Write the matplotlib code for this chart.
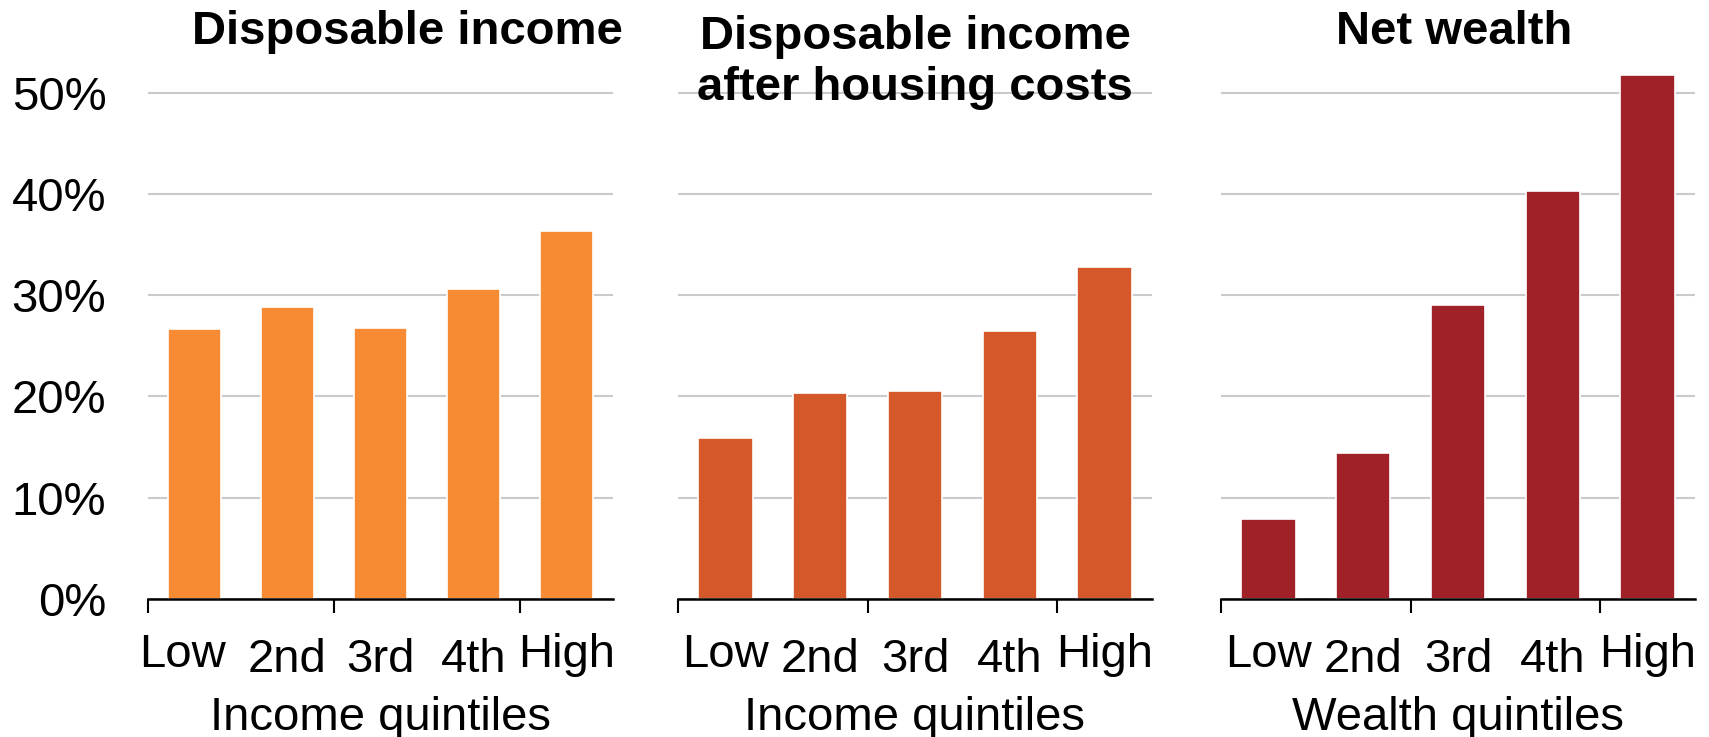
import matplotlib
matplotlib.use("Agg")
import matplotlib.pyplot as plt
import matplotlib.transforms as mtransforms

# quintile labels and values (% share)
quintiles = ["Low", "2nd", "3rd", "4th", "High"]
disp_income = [26.7, 28.8, 26.8, 30.6, 36.3]
disp_income_ahc = [15.9, 20.3, 20.5, 26.5, 32.8]
net_wealth = [7.9, 14.4, 29.0, 40.3, 51.7]

titles = ["Disposable income", "Disposable income\nafter housing costs", "Net wealth"]
xlabels = ["Income quintiles", "Income quintiles", "Wealth quintiles"]
colors = ["#F68B33", "#D5582A", "#A02128"]
yticks = [0, 10, 20, 30, 40, 50]

plt.rcParams["font.family"] = ["Liberation Sans", "DejaVu Sans"]
FS = 34

W, H = 1709, 737
fig = plt.figure(figsize=(W / 100, H / 100), dpi=100)

# axes boxes in pixels: left, right  (x-axis line sits at y=599 px)
boxes = [(148, 613), (678, 1152), (1221, 1695)]
title_x = [407, 915, 1454]
axis_y = 599
top_y = 42

series = [disp_income, disp_income_ahc, net_wealth]


def px_offset(dx, dy):
    return mtransforms.ScaledTranslation(dx / 100, dy / 100, fig.dpi_scale_trans)


for k, (left, right) in enumerate(boxes):
    ax = fig.add_axes([left / W, (H - axis_y) / H, (right - left) / W, (axis_y - top_y) / H])
    x = list(range(len(quintiles)))
    ax.bar(x, series[k], width=0.575, color=colors[k], edgecolor="white",
           linewidth=1.2, zorder=3)

    ax.set_xlim(-0.5, 4.5)
    ax.set_ylim(0, 55)

    # grid
    ax.set_yticks(yticks)
    ax.yaxis.grid(True, color="#C8CACD", linewidth=1.5, zorder=0)
    ax.tick_params(axis="y", length=0, labelsize=FS, pad=30)
    if k == 0:
        ax.set_yticklabels([f"{v}%" for v in yticks])
    else:
        ax.set_yticklabels([])

    for side in ["left", "right", "top"]:
        ax.spines[side].set_visible(False)
    ax.spines["bottom"].set_linewidth(1.8)
    ax.spines["bottom"].set_zorder(4)

    # ticks between every second category
    ax.set_xticks([-0.5, 1.5, 3.5])
    ax.set_xticklabels([])
    ax.tick_params(axis="x", direction="out", length=10, width=1.5, color="black")

    # category labels (Low/High sit a bit higher)
    for i, lab in enumerate(quintiles):
        dy = -68 if lab in ("Low", "High") else -73
        dx = -12 if (k == 0 and lab == "Low") else 0
        ax.text(i, 0, lab, fontsize=FS, ha="center", va="baseline",
                transform=ax.get_xaxis_transform() + px_offset(dx, dy))

    ax.text(0.5, 0, xlabels[k], fontsize=FS, ha="center", va="baseline",
            transform=ax.transAxes + px_offset(0, -131))

    # title: baseline of last line at 44 px + 56 px per extra line
    nlines = titles[k].count("\n") + 1
    base_y = 44 + 56 * (nlines - 1)
    fig.text(title_x[k] / W, (H - base_y) / H, titles[k], fontsize=FS,
             fontweight="bold", ha="center", va="baseline", linespacing=1.2)

fig.savefig("out.png", dpi=100)
